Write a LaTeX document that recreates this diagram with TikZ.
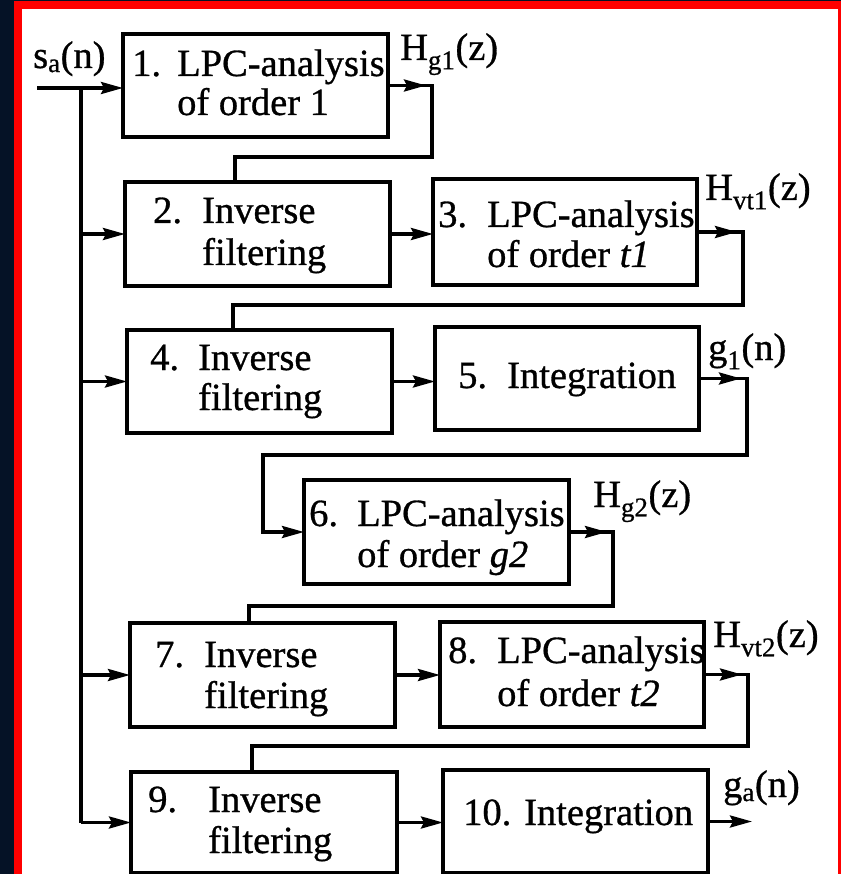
\documentclass[tikz,border=0pt]{standalone}
\usepackage{fontspec}
\setmainfont{Liberation Serif}[FakeBold=0.8]
\usetikzlibrary{arrows.meta}
\definecolor{navy}{RGB}{5,18,38}
\definecolor{bord}{RGB}{255,0,0}
\newcommand\boxtxt[5]{\begin{tabular}[t]{@{}p{#1pt}@{}l@{}}#2 & #3\\[#5pt] & #4\end{tabular}}
\begin{document}
\begin{tikzpicture}[x=1pt,y=-1pt,
  box/.style={draw, line width=3.2pt, minimum width=265pt, minimum height=104pt, inner sep=0pt, outer sep=0pt},
  ln/.style={line width=3.2pt},
  arr/.style={line width=3.2pt, -{Stealth[length=22pt,width=12pt,inset=3pt]}},
  txt/.style={anchor=base west, inner sep=0pt, font=\fontsize{38.5}{40}\selectfont},
]
\useasboundingbox (0,0) rectangle (841,874);
\fill[navy] (0,0) rectangle (841,874);
\fill[bord] (14,1.5) rectangle (841,874);
\fill[white] (22,9.5) rectangle (838,874);

% boxes
\node[box, minimum height=103pt] (b1) at (255.5,85.5) {};
\node[box] (b2) at (257.5,234) {};
\node[box, minimum width=264pt, minimum height=106pt] (b3) at (565,232) {};
\node[box, minimum height=103pt] (b4) at (259.5,381.5) {};
\node[box, minimum width=264pt, minimum height=103pt] (b5) at (567,378.5) {};
\node[box] (b6) at (436.5,532) {};
\node[box] (b7) at (262.5,675) {};
\node[box, minimum width=264pt, minimum height=105pt] (b8) at (572,674.5) {};
\node[box, minimum width=266pt, minimum height=101pt] (b9) at (264,822.5) {};
\node[box, minimum height=103pt] (b10) at (575.5,821.5) {};

% box texts
\node[txt] (t1) at (132,76) {\boxtxt{45}{1.}{LPC-analysis}{of order 1}{-1}};
\node[txt] (t2) at (153,223) {\boxtxt{49}{2.}{Inverse}{filtering}{2}};
\node[txt] (t3) at (438,227) {\boxtxt{49}{3.}{LPC-analysis}{of order \textit{t1}}{0}};
\node[txt] (t4) at (150,370) {\boxtxt{48}{4.}{Inverse}{filtering}{0}};
\node[txt] (t5) at (458,388) {\makebox[49pt][l]{5.}Integration};
\node[txt] (t6) at (309,526) {\boxtxt{48}{6.}{LPC-analysis}{of order \textit{g2}}{1}};
\node[txt] (t7) at (155,667) {\boxtxt{49}{7.}{Inverse}{filtering}{1}};
\node[txt] (t8) at (448,663) {\boxtxt{49}{8.}{LPC-analysis}{of order \textit{t2}}{3}};
\node[txt] (t9) at (148,812) {\boxtxt{60}{9.}{Inverse}{filtering}{1}};
\node[txt] (t10) at (463,825) {10. Integration};

% signal labels
\node[txt] (lsa) at (33,68) {s\textsubscript{a}(n)};
\node[txt] (lhg1) at (400,60) {H\textsubscript{g1}(z)};
\node[txt] (lhvt1) at (705,200) {H\textsubscript{vt1}(z)};
\node[txt] (lg1) at (708,360) {g\textsubscript{1}(n)};
\node[txt] (lhg2) at (593,507) {H\textsubscript{g2}(z)};
\node[txt] (lhvt2) at (713,647) {H\textsubscript{vt2}(z)};
\node[txt] (lga) at (723,797) {g\textsubscript{a}(n)};

% input and bus
\coordinate (in) at (37,88);
\coordinate (bus) at (81,88);
\draw[arr] (in) -- (in -| b1.west);
\draw[ln] (bus) -- (bus |- b9.west);
\draw[arr] (bus |- b2.west) -- (b2.west);
\draw[arr] (bus |- b4.west) -- (b4.west);
\draw[arr] (bus |- b7.west) -- (b7.west);
\draw[arr] (bus |- b9.west) -- (b9.west);

% corner coordinates
\coordinate (r1) at (432,157);
\coordinate (r3) at (743,305);
\coordinate (r5) at (747,455);
\coordinate (l5) at (263,455);
\coordinate (r6) at (613,606);
\coordinate (r8) at (748,746);

% stage 1 -> 2
\draw[arr] (b1.east) -- ++(38,0);
\draw[ln] (b1.east) -| (r1) -| ([xshift=-22.5pt]b2.north);
% 2 -> 3
\draw[arr] (b2.east) -- (b2.east -| b3.west);
% 3 -> 4
\draw[arr] (b3.east) -- ++(40,0);
\draw[ln] (b3.east) -| (r3) -| ([xshift=-26.5pt]b4.north);
% 4 -> 5
\draw[arr] (b4.east) -- (b4.east -| b5.west);
% 5 -> 6
\draw[arr] (b5.east) -- ++(42,0);
\draw[arr] (b5.east) -| (r5) -- (l5) |- (b6.west);
% 6 -> 7
\draw[arr] (b6.east) -- ++(38,0);
\draw[ln] (b6.east) -| (r6) -| ([xshift=-13.5pt]b7.north);
% 7 -> 8
\draw[arr] (b7.east) -- (b7.east -| b8.west);
% 8 -> 9
\draw[arr] (b8.east) -- ++(38,0);
\draw[ln] (b8.east) -| (r8) -| ([xshift=-12pt]b9.north);
% 9 -> 10
\draw[arr] (b9.east) -- (b9.east -| b10.west);
% output
\draw[arr] (b10.east) -- ++(44,0);
\end{tikzpicture}
\end{document}
